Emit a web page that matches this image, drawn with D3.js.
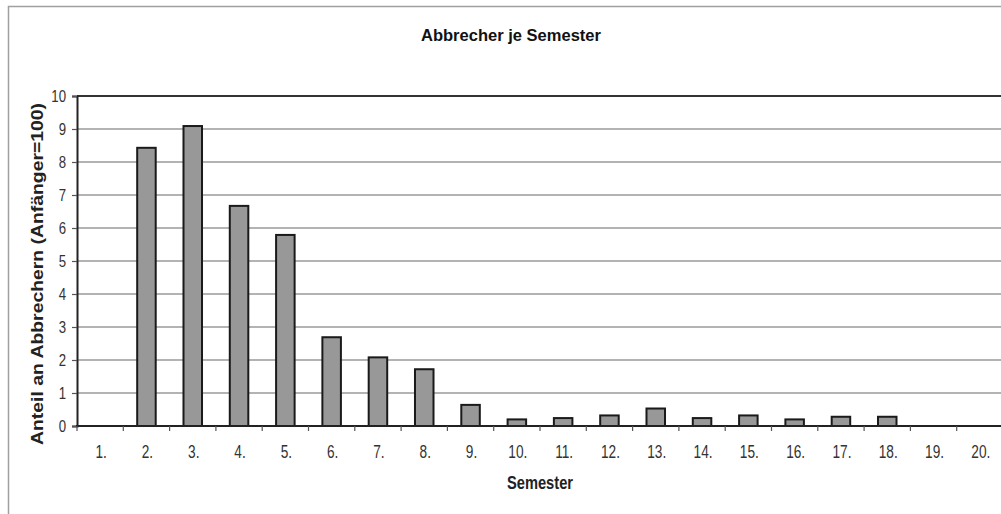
<!DOCTYPE html>
<html>
<head>
<meta charset="utf-8">
<script src="https://cdn.jsdelivr.net/npm/d3@7"></script>
<style>
  html, body { margin: 0; padding: 0; background: #fff; }
  svg { display: block; }
  text { font-family: "Liberation Sans Narrow", "Arial Narrow", "Liberation Sans", Arial, sans-serif; }
</style>
</head>
<body>
<svg id="chart" width="1001" height="514"></svg>
<script>
// Abbrecher je Semester (Anteil an Abbrechern, Anfänger = 100)
const semesters = ["1.", "2.", "3.", "4.", "5.", "6.", "7.", "8.", "9.", "10.",
                   "11.", "12.", "13.", "14.", "15.", "16.", "17.", "18.", "19.", "20."];
const dropouts = [0, 8.43, 9.09, 6.67, 5.79, 2.69, 2.08, 1.72, 0.64, 0.2,
                  0.24, 0.32, 0.53, 0.24, 0.32, 0.2, 0.28, 0.28, 0, 0];
const yTicks = [0, 1, 2, 3, 4, 5, 6, 7, 8, 9, 10];

const svg = d3.select("#chart");
const margin = { left: 77, top: 96, right: -2, bottom: 88 };
const W = 1001, H = 514;
const x0 = margin.left, x1 = W - margin.right;
const y0 = H - margin.bottom, y1 = margin.top;

// condense text horizontally (narrow typeface look)
function condense(sel, factor) {
  sel.each(function () {
    const w = this.getComputedTextLength();
    d3.select(this).attr("textLength", w * factor).attr("lengthAdjust", "spacingAndGlyphs");
  });
}

// outer chart frame
svg.append("rect")
  .attr("x", 8.5).attr("y", 6.5)
  .attr("width", 1010).attr("height", 520)
  .attr("fill", "#fff").attr("stroke", "#a0a0a0").attr("stroke-width", 1.5);

const xb = d3.scaleBand().domain(semesters).range([x0, x1]);
const y = d3.scaleLinear().domain([0, 10]).range([y0, y1]);

// horizontal gridlines
svg.append("g")
  .selectAll("line")
  .data(yTicks.filter(t => t > 0 && t < 10))
  .join("line")
  .attr("x1", x0).attr("x2", W)
  .attr("y1", d => y(d)).attr("y2", d => y(d))
  .attr("stroke", "#9a9a9a").attr("stroke-width", 1.5);

// top edge of plot area
svg.append("line")
  .attr("x1", x0).attr("x2", W)
  .attr("y1", y(10)).attr("y2", y(10))
  .attr("stroke", "#333").attr("stroke-width", 2);

// bars
svg.append("g")
  .selectAll("rect")
  .data(dropouts.map((v, i) => ({ s: semesters[i], v })).filter(d => d.v > 0))
  .join("rect")
  .attr("x", d => xb(d.s) + xb.bandwidth() * 0.3)
  .attr("width", xb.bandwidth() * 0.4)
  .attr("y", d => y(d.v))
  .attr("height", d => y(0) - y(d.v))
  .attr("fill", "#989898")
  .attr("stroke", "#1a1a1a").attr("stroke-width", 2);

// y axis
const yAxis = svg.append("g")
  .attr("transform", `translate(${x0},0)`)
  .call(d3.axisLeft(y).tickValues(yTicks).tickSize(5).tickPadding(6).tickFormat(d3.format("d")));
yAxis.select(".domain").attr("stroke", "#222").attr("stroke-width", 2);
yAxis.selectAll(".tick line").attr("stroke", "#555").attr("stroke-width", 1.2);
yAxis.selectAll(".tick text").attr("font-size", 16.5).attr("fill", "#333").attr("font-family", null)
  .call(condense, 0.8);

// x axis: ticks between categories
const xAxisG = svg.append("g");
xAxisG.append("line")
  .attr("x1", x0 - 1).attr("x2", W)
  .attr("y1", y0).attr("y2", y0)
  .attr("stroke", "#222").attr("stroke-width", 2);
xAxisG.selectAll("line.tk")
  .data(semesters)
  .join("line").attr("class", "tk")
  .attr("x1", d => xb(d)).attr("x2", d => xb(d))
  .attr("y1", y0).attr("y2", y0 + 5)
  .attr("stroke", "#555").attr("stroke-width", 1.2);
xAxisG.selectAll("text")
  .data(semesters)
  .join("text")
  .attr("x", d => xb(d) + xb.bandwidth() / 2 + 1)
  .attr("y", y0 + 32)
  .attr("text-anchor", "middle")
  .attr("font-size", 17.5).attr("fill", "#333")
  .text(d => d)
  .call(condense, 0.78);

// title
svg.append("text")
  .attr("x", 511).attr("y", 41)
  .attr("text-anchor", "middle")
  .attr("font-size", 16.5).attr("font-weight", "bold").attr("fill", "#111")
  .attr("textLength", 180).attr("lengthAdjust", "spacingAndGlyphs")
  .text("Abbrecher je Semester");

// axis titles
svg.append("text")
  .attr("x", 540).attr("y", 489)
  .attr("text-anchor", "middle")
  .attr("font-size", 17.5).attr("font-weight", "bold").attr("fill", "#222")
  .attr("textLength", 66).attr("lengthAdjust", "spacingAndGlyphs")
  .text("Semester");

svg.append("text")
  .attr("transform", "translate(42.5,274) rotate(-90)")
  .attr("text-anchor", "middle")
  .attr("font-size", 16).attr("font-weight", "bold").attr("fill", "#222")
  .attr("textLength", 342).attr("lengthAdjust", "spacingAndGlyphs")
  .text("Anteil an Abbrechern (Anfänger=100)");
</script>
</body>
</html>
